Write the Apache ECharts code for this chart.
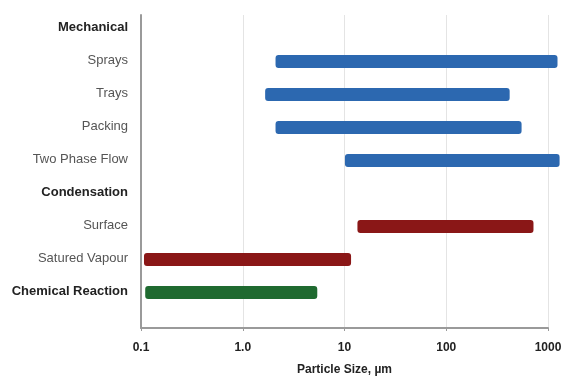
<!DOCTYPE html>
<html>
<head>
<meta charset="utf-8">
<script src="https://cdn.jsdelivr.net/npm/echarts@6/dist/echarts.min.js"></script>
<style>
html,body{margin:0;padding:0;background:#fff;}
#chart{width:564px;height:376px;}
</style>
</head>
<body>
<div id="chart"></div>
<script>
// Data
const categories = ['Mechanical','Sprays','Trays','Packing','Two Phase Flow','Condensation','Surface','Satured Vapour','Chemical Reaction'];
const headings = ['Mechanical','Condensation','Chemical Reaction'];
const rangeStart = [null, 2.1, 1.66, 2.1, 10.1, null, 13.4, 0.107, 0.11];
const rangeEnd   = [null, 1240, 420, 550, 1300, null, 720, 11.6, 5.4];
const groupOf    = ['', 'mech', 'mech', 'mech', 'mech', '', 'cond', 'cond', 'chem'];
const xTicks = [0.1, 1, 10, 100, 1000];
const xTickLabels = ['0.1', '1.0', '10', '100', '1000'];

const groupColors = {mech: '#2c68b0', cond: '#8a1717', chem: '#1f6a30'};

const barData = [];
categories.forEach(function (c, i) {
  if (rangeStart[i] != null) {
    barData.push({value: [rangeStart[i], rangeEnd[i], i], itemStyle: {color: groupColors[groupOf[i]]}});
  }
});

const chart = echarts.init(document.getElementById('chart'));
chart.setOption({
  animation: false,
  grid: {left: 141, right: 16, top: 15, bottom: 48, containLabel: false, outerBoundsMode: 'none'},
  xAxis: {
    type: 'log',
    logBase: 10,
    min: 0.1,
    max: 1000,
    name: 'Particle Size, µm',
    nameLocation: 'middle',
    nameGap: 36,
    nameTextStyle: {fontFamily: 'Liberation Sans', fontWeight: 'bold', fontSize: 12, color: '#222'},
    axisLine: {show: true, onZero: false, lineStyle: {color: '#9a9a9a', width: 2}},
    axisTick: {show: true, length: 3, lineStyle: {color: '#9a9a9a'}},
    axisLabel: {
      fontFamily: 'Liberation Sans', fontWeight: 'bold', fontSize: 12, color: '#222', margin: 14,
      formatter: function (v) {
        for (let k = 0; k < xTicks.length; k++) {
          if (Math.abs(Math.log10(v) - Math.log10(xTicks[k])) < 1e-6) return xTickLabels[k];
        }
        return '';
      }
    },
    splitLine: {show: true, lineStyle: {color: '#e4e4e4', width: 1}}
  },
  yAxis: {
    type: 'value',
    inverse: true,
    min: -0.364,
    max: 9.12,
    axisLine: {show: true, onZero: false, lineStyle: {color: '#9a9a9a', width: 2}},
    axisTick: {show: false},
    splitLine: {show: false},
    axisLabel: {
      customValues: [0,1,2,3,4,5,6,7,8],
      margin: 13,
      formatter: function (v) {
        const name = categories[Math.round(v)];
        if (headings.indexOf(name) >= 0) return '{b|' + name + '}';
        return '{r|' + name + '}';
      },
      rich: {
        b: {fontFamily: 'Liberation Sans', fontWeight: 'bold', fontSize: 13, color: '#222'},
        r: {fontFamily: 'Liberation Sans', fontSize: 13, color: '#555'}
      }
    }
  },
  series: [{
    type: 'custom',
    clip: false,
    encode: {x: [0, 1], y: 2},
    data: barData,
    renderItem: function (params, api) {
      const s = api.coord([api.value(0), api.value(2)]);
      const e = api.coord([api.value(1), api.value(2)]);
      const h = 13;
      return {
        type: 'rect',
        shape: {x: s[0], y: s[1] - h / 2 + 1.5, width: e[0] - s[0], height: h, r: 3},
        style: {fill: api.visual('color')}
      };
    }
  }]
});
</script>
</body>
</html>
